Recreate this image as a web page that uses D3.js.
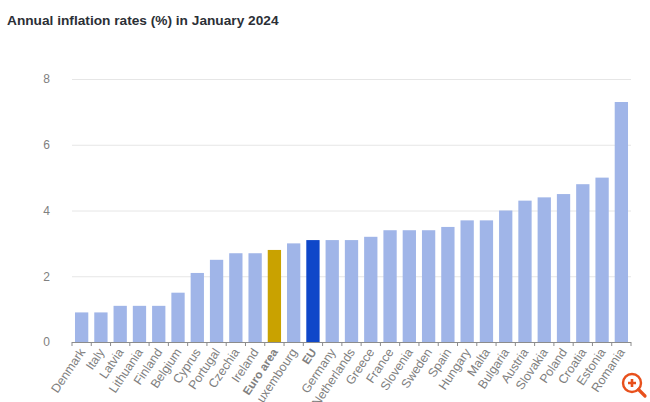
<!DOCTYPE html>
<meta charset="utf-8">
<style>
  html, body { margin: 0; padding: 0; background: #fff; overflow: hidden; }
  svg { display: block; font-family: "Liberation Sans", Arial, sans-serif; }
  .title { font-size: 13.7px; font-weight: bold; fill: #2b2f36; }
  .axis text { font-size: 12px; fill: #808080; }
  .x-axis text { font-size: 12.4px; fill: #808080; }
</style>

<body>
  <script src="https://d3js.org/d3.v7.min.js"></script>
  <script>
    // values
    var countries = ["Denmark", "Italy", "Latvia", "Lithuania", "Finland", "Belgium", "Cyprus", "Portugal",
      "Czechia", "Ireland", "Euro area", "Luxembourg", "EU", "Germany", "Netherlands", "Greece", "France",
      "Slovenia", "Sweden", "Spain", "Hungary", "Malta", "Bulgaria", "Austria", "Slovakia", "Poland",
      "Croatia", "Estonia", "Romania"];
    var rates = [0.9, 0.9, 1.1, 1.1, 1.1, 1.5, 2.1, 2.5, 2.7, 2.7, 2.8, 3.0, 3.1, 3.1, 3.1, 3.2, 3.4,
      3.4, 3.4, 3.5, 3.7, 3.7, 4.0, 4.3, 4.4, 4.5, 4.8, 5.0, 7.3];
    var yTicks = [0, 2, 4, 6, 8];
    var highlight = { "Euro area": "#c9a200", "EU": "#0f47c9" };

    var margin = { top: 79, right: 19, bottom: 60, left: 72 },
      width = 650 - margin.left - margin.right,
      height = 402 - margin.top - margin.bottom;

    var svg = d3.select("body").append("svg")
      .attr("width", 650)
      .attr("height", 402);

    svg.append("text")
      .attr("class", "title")
      .attr("x", 7)
      .attr("y", 25)
      .text("Annual inflation rates (%) in January 2024");

    var g = svg.append("g")
      .attr("transform", "translate(" + margin.left + "," + margin.top + ")");

    var x = d3.scaleBand().domain(countries).range([0, width]).paddingInner(0.31).paddingOuter(0.155);
    var y = d3.scaleLinear().domain([0, 8]).range([height, 0]);

    // gridlines + y labels
    var yAxis = g.append("g")
      .attr("class", "axis")
      .call(d3.axisLeft(y).tickValues(yTicks).tickSize(-width).tickPadding(22).tickFormat(d3.format("d")));
    yAxis.select(".domain").remove();
    yAxis.selectAll("line").attr("stroke", "#e6e6e6");

    // bars
    g.selectAll(".bar")
      .data(rates)
      .enter().append("rect")
      .attr("class", "bar")
      .attr("x", function (d, i) { return x(countries[i]); })
      .attr("y", function (d) { return y(d); })
      .attr("width", x.bandwidth())
      .attr("height", function (d) { return height - y(d); })
      .attr("fill", function (d, i) { return highlight[countries[i]] || "#a0b5e8"; });

    // x axis, rotated labels
    var xAxis = g.append("g")
      .attr("class", "x-axis")
      .attr("transform", "translate(0," + height + ")")
      .call(d3.axisBottom(x).tickSize(0).tickPadding(0));
    xAxis.select(".domain").attr("stroke", "#8c8c8c").attr("d", "M0,0.5H" + width);
    xAxis.selectAll("text")
      .attr("text-anchor", "end")
      .attr("dy", 0)
      .attr("transform", "translate(4,10) rotate(-56)")
      .style("font-weight", function (d) { return highlight[d] ? "bold" : null; })
      .style("font-size", function (d) { return highlight[d] ? "11.5px" : null; });

    // separator ticks between the bands
    xAxis.selectAll(".sep")
      .data(d3.range(countries.length + 1))
      .enter().append("line")
      .attr("class", "sep")
      .attr("x1", function (i) { return i * x.step(); })
      .attr("x2", function (i) { return i * x.step(); })
      .attr("y1", 0)
      .attr("y2", 4)
      .attr("stroke", "#8c8c8c");

    // zoom icon bottom right
    var icon = svg.append("g").attr("transform", "translate(632,383)");
    icon.append("circle").attr("r", 9).attr("fill", "none").attr("stroke", "#e8501c").attr("stroke-width", 2.4);
    icon.append("line").attr("x1", 6.5).attr("y1", 6.5).attr("x2", 13).attr("y2", 13)
      .attr("stroke", "#e8501c").attr("stroke-width", 3.2).attr("stroke-linecap", "round");
    icon.append("path").attr("d", "M-4,0H4M0,-4V4").attr("stroke", "#e8501c").attr("stroke-width", 2.6);
  </script>
</body>
